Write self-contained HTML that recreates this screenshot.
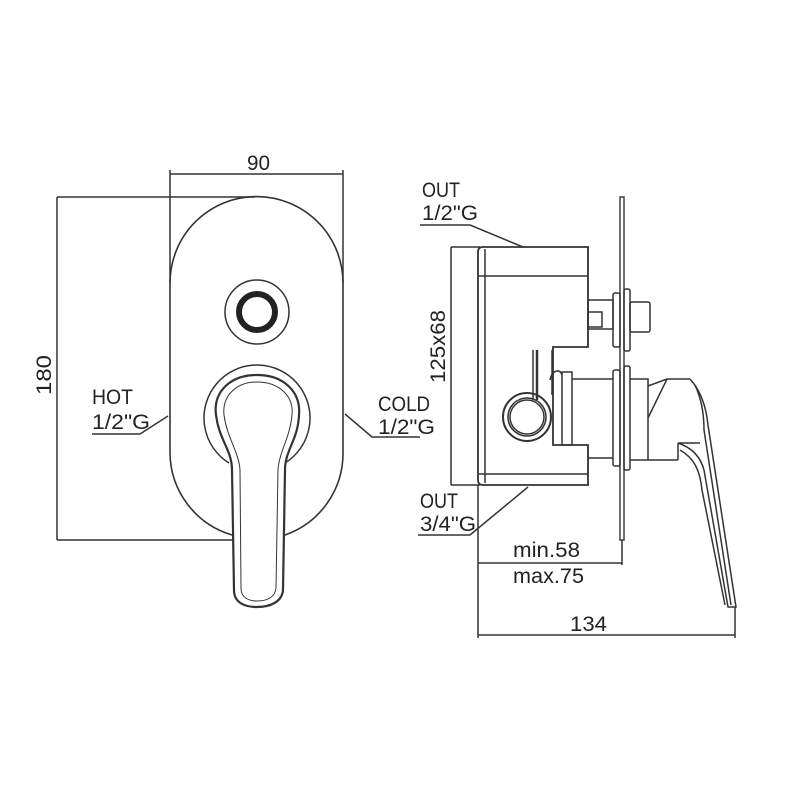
<!DOCTYPE html>
<html><head><meta charset="utf-8"><style>
html,body{margin:0;padding:0;background:#fff;}
svg{display:block;}
text{font-family:"Liberation Sans Narrow","Liberation Sans",sans-serif;fill:#222;font-size:21px;}
</style></head><body>
<svg width="800" height="800" viewBox="0 0 800 800" xmlns="http://www.w3.org/2000/svg">
<g fill="none" stroke="#333" stroke-width="1.5">
<!-- LEFT VIEW -->
<line x1="170" y1="174" x2="343" y2="174"/>
<line x1="170" y1="170" x2="170" y2="283"/>
<line x1="343" y1="170" x2="343" y2="283"/>
<line x1="57" y1="197" x2="57" y2="540"/>
<line x1="57" y1="197" x2="255" y2="197"/>
<line x1="57" y1="540" x2="255" y2="540"/>
<!-- plate -->
<path d="M232,535 A86.5,86.5 0 0 1 170,453 L170,283 A86.5,86.5 0 0 1 343,283 L343,453 A86.5,86.5 0 0 1 285,535" stroke-width="1.6"/>
<!-- button -->
<circle cx="257" cy="312" r="32"/>
<circle cx="257" cy="312" r="18" stroke-width="6" stroke="#222"/>
<!-- handle ring -->
<path d="M229,463 A53,53 0 1 1 285,463"/>
<!-- lever -->
<path d="M257,375 C230,375 213,392 216,415 C219,440 232,450 232,470 L234,590 C234,603 245,607 257,607 C270,607 282,602 283,590 L285,470 C285,450 298,440 299,415 C301,392 284,375 257,375 Z" fill="#fff" stroke-width="2.2"/>
<path d="M257,382 C236,382 222,396 224,415 C227,438 239,452 240,470 L241,588 C241,598 249,601 257,601 C266,601 275,598 276,588 L278,470 C279,452 290,438 292,415 C294,396 279,382 257,382 Z" stroke-width="1"/>
<polyline points="92,434 140,434 168,416"/>
<polyline points="345,414 372,437 420,437"/>

<!-- RIGHT VIEW -->
<line x1="451" y1="247" x2="451" y2="485"/>
<line x1="451" y1="247" x2="480" y2="247"/>
<line x1="451" y1="485" x2="480" y2="485"/>
<path d="M483,247 L588,247 L588,347 L553,347 L553,445 L588,445 L588,485 L483,485 Q478,485 478,480 L478,252 Q478,247 483,247 Z" stroke-width="1.8"/>
<line x1="485" y1="249" x2="485" y2="483"/>
<line x1="478" y1="276" x2="588" y2="276"/>
<line x1="478" y1="474" x2="588" y2="474"/>
<rect x="620" y="197" width="4" height="343" stroke-width="1.4"/>
<rect x="588" y="300" width="25" height="29"/>
<rect x="588" y="312" width="14" height="15"/>
<rect x="613" y="293" width="7" height="54" rx="2"/>
<rect x="624" y="289" width="6" height="62" rx="2"/>
<rect x="630" y="302" width="20" height="30" rx="2"/>
<rect x="562" y="372" width="10" height="73"/>
<line x1="572" y1="379" x2="613" y2="379"/>
<line x1="588" y1="458" x2="613" y2="458"/>
<rect x="613" y="370" width="7" height="96" rx="2"/>
<rect x="624" y="366" width="6" height="104" rx="2"/>
<line x1="533" y1="350" x2="533" y2="400"/>
<line x1="537" y1="350" x2="537" y2="400" stroke-width="2.5"/>
<line x1="552" y1="350" x2="552" y2="395"/>
<path d="M550,380 C552,370 560,368 562,375"/>
<circle cx="527" cy="417" r="24" stroke-width="2"/>
<circle cx="527" cy="417" r="19"/>
<circle cx="527" cy="417" r="17"/>
<polyline points="630,379 648,379 648,460 630,460"/>
<polyline points="648,386 667,379 690,379"/>
<line x1="667" y1="379" x2="648" y2="418"/>
<line x1="648" y1="460" x2="678" y2="460"/>
<path d="M690,379 C700,390 706,405 708,425 L736,607 L728,607 L704,470 C700,455 690,447 678,443 L700,443"/>
<path d="M695,385 C702,400 704,415 704,430 L731,605"/>
<path d="M680,450 C694,458 700,470 702,490 L725,605"/>
<line x1="678" y1="443" x2="678" y2="460"/>
<polyline points="420,225 470,225 523,247"/>
<polyline points="418,535 470,535 528,487"/>
<line x1="478" y1="485" x2="478" y2="638"/>
<line x1="622" y1="540" x2="622" y2="565"/>
<line x1="478" y1="563" x2="622" y2="563"/>
<line x1="478" y1="635" x2="735" y2="635"/>
<line x1="735" y1="607" x2="735" y2="638"/>
</g>
<g stroke="none">
<text x="247" y="170" textLength="23" lengthAdjust="spacingAndGlyphs">90</text>
<text transform="translate(51,395) rotate(-90)" textLength="40" lengthAdjust="spacingAndGlyphs">180</text>
<text x="92" y="404" textLength="41" lengthAdjust="spacingAndGlyphs">HOT</text>
<text x="92" y="429" textLength="58" lengthAdjust="spacingAndGlyphs">1/2"G</text>
<text x="378" y="411" textLength="52" lengthAdjust="spacingAndGlyphs">COLD</text>
<text x="378" y="434" textLength="57" lengthAdjust="spacingAndGlyphs">1/2"G</text>
<text x="422" y="197" textLength="38" lengthAdjust="spacingAndGlyphs">OUT</text>
<text x="422" y="220" textLength="56" lengthAdjust="spacingAndGlyphs">1/2"G</text>
<text x="420" y="508" textLength="38" lengthAdjust="spacingAndGlyphs">OUT</text>
<text x="420" y="531" textLength="56" lengthAdjust="spacingAndGlyphs">3/4"G</text>
<text transform="translate(445,383) rotate(-90)" textLength="73" lengthAdjust="spacingAndGlyphs">125x68</text>
<text x="513" y="557" textLength="67" lengthAdjust="spacingAndGlyphs">min.58</text>
<text x="513" y="583" textLength="71" lengthAdjust="spacingAndGlyphs">max.75</text>
<text x="570" y="631" textLength="37" lengthAdjust="spacingAndGlyphs">134</text>
</g>
</svg>
</body></html>
